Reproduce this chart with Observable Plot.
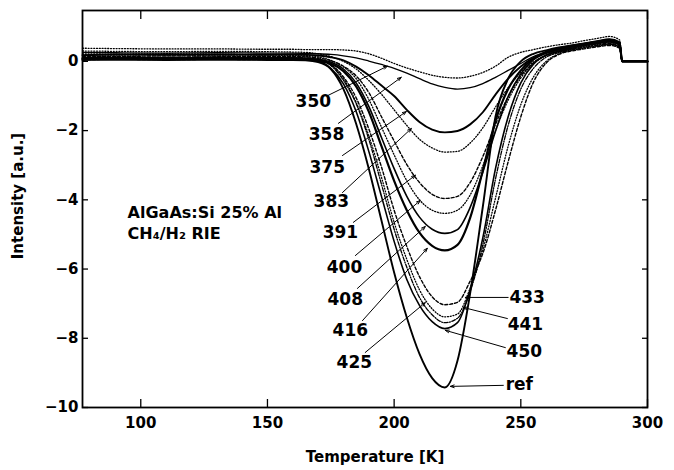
<!DOCTYPE html>
<html><head><meta charset="utf-8">
<script src="https://cdn.jsdelivr.net/npm/d3@7"></script>
<script src="https://cdn.jsdelivr.net/npm/@observablehq/plot@0.6"></script>
<style>body{margin:0;background:#fff} svg{display:block}</style>
</head><body><div id="chart"></div>
<script>
// Temperature samples [K]
const temperature = [77, 90, 110, 130, 150, 160, 165, 170, 175, 180, 185, 190, 195, 200, 205, 210, 215, 220, 225, 230, 235, 240, 245, 250, 255, 260, 265, 270, 275, 280, 285, 289, 290, 300];

// Intensity [a.u.] per curve
const s350 = [0.38, 0.37, 0.36, 0.36, 0.35, 0.35, 0.34, 0.34, 0.34, 0.33, 0.30, 0.22, 0.09, -0.06, -0.19, -0.30, -0.40, -0.46, -0.48, -0.43, -0.32, -0.14, 0.12, 0.26, 0.34, 0.42, 0.48, 0.53, 0.60, 0.66, 0.72, 0.62, 0, 0];
const s358 = [0.26, 0.25, 0.24, 0.25, 0.24, 0.24, 0.23, 0.22, 0.20, 0.16, 0.10, 0.01, -0.09, -0.20, -0.34, -0.50, -0.65, -0.75, -0.80, -0.76, -0.64, -0.46, -0.26, -0.06, 0.14, 0.27, 0.37, 0.44, 0.52, 0.58, 0.62, 0.55, 0, 0];
const s375 = [0.18, 0.20, 0.19, 0.20, 0.19, 0.20, 0.19, 0.17, 0.12, 0.03, -0.15, -0.40, -0.70, -1.00, -1.40, -1.75, -1.97, -2.05, -2.01, -1.82, -1.47, -0.96, -0.50, -0.15, 0.10, 0.24, 0.34, 0.42, 0.50, 0.56, 0.60, 0.50, 0, 0];
const s383 = [0.30, 0.29, 0.28, 0.29, 0.28, 0.27, 0.26, 0.22, 0.14, 0.00, -0.22, -0.55, -0.95, -1.40, -1.85, -2.25, -2.50, -2.62, -2.60, -2.36, -1.92, -1.32, -0.76, -0.32, -0.02, 0.18, 0.30, 0.38, 0.45, 0.52, 0.56, 0.48, 0, 0];
const s391 = [0.15, 0.14, 0.16, 0.15, 0.14, 0.14, 0.13, 0.10, 0.02, -0.14, -0.42, -0.90, -1.60, -2.30, -2.98, -3.50, -3.84, -3.96, -3.90, -3.50, -2.75, -1.82, -1.02, -0.42, -0.04, 0.18, 0.28, 0.36, 0.44, 0.50, 0.52, 0.45, 0, 0];
const s400 = [0.22, 0.21, 0.22, 0.21, 0.20, 0.20, 0.18, 0.13, 0.03, -0.16, -0.50, -1.10, -1.90, -2.70, -3.45, -4.00, -4.30, -4.39, -4.30, -3.86, -3.02, -2.00, -1.12, -0.48, -0.06, 0.16, 0.27, 0.35, 0.42, 0.48, 0.50, 0.42, 0, 0];
const s408 = [0.10, 0.10, 0.11, 0.10, 0.10, 0.10, 0.09, 0.06, -0.02, -0.22, -0.62, -1.30, -2.20, -3.10, -3.90, -4.50, -4.85, -4.97, -4.86, -4.22, -3.20, -2.02, -1.02, -0.36, 0.04, 0.24, 0.34, 0.42, 0.48, 0.52, 0.56, 0.48, 0, 0];
const s416 = [0.08, 0.07, 0.08, 0.07, 0.07, 0.07, 0.06, 0.03, -0.06, -0.28, -0.72, -1.45, -2.45, -3.45, -4.30, -4.95, -5.33, -5.46, -5.30, -4.52, -3.15, -1.72, -0.80, -0.26, 0.08, 0.28, 0.38, 0.45, 0.50, 0.56, 0.62, 0.52, 0, 0];
const s425 = [0.12, 0.13, 0.12, 0.13, 0.12, 0.12, 0.10, 0.05, -0.12, -0.55, -1.22, -2.25, -3.55, -4.85, -5.95, -6.82, -7.32, -7.55, -7.42, -6.65, -5.30, -3.40, -1.85, -0.80, -0.20, 0.12, 0.25, 0.33, 0.40, 0.46, 0.50, 0.40, 0, 0];
const s433 = [0.05, 0.06, 0.05, 0.06, 0.05, 0.05, 0.04, 0.00, -0.10, -0.45, -1.05, -1.95, -3.05, -4.30, -5.35, -6.22, -6.80, -7.03, -6.96, -6.35, -5.55, -4.30, -2.90, -1.60, -0.60, -0.05, 0.20, 0.30, 0.36, 0.42, 0.46, 0.38, 0, 0];
const s441 = [0.20, 0.18, 0.19, 0.18, 0.18, 0.17, 0.15, 0.08, -0.10, -0.50, -1.18, -2.15, -3.35, -4.65, -5.72, -6.60, -7.15, -7.38, -7.30, -6.55, -5.45, -3.95, -2.45, -1.25, -0.45, 0.00, 0.22, 0.32, 0.38, 0.44, 0.48, 0.40, 0, 0];
const s450 = [0.06, 0.05, 0.06, 0.05, 0.06, 0.05, 0.04, 0.00, -0.20, -0.65, -1.45, -2.60, -3.90, -5.20, -6.30, -7.05, -7.52, -7.72, -7.55, -6.60, -5.10, -3.10, -1.60, -0.62, -0.08, 0.18, 0.30, 0.38, 0.46, 0.52, 0.58, 0.50, 0, 0];
const sRef = [0.04, 0.05, 0.04, 0.05, 0.04, 0.04, 0.03, -0.02, -0.22, -0.80, -1.80, -3.10, -4.60, -6.10, -7.40, -8.45, -9.15, -9.42, -8.65, -6.70, -4.20, -1.60, -0.50, 0.00, 0.22, 0.32, 0.40, 0.46, 0.52, 0.58, 0.64, 0.55, 0, 0];

const seriesNames = ["350", "358", "375", "383", "391", "400", "408", "416", "425", "433", "441", "450", "ref"];
const seriesValues = [s350, s358, s375, s383, s391, s400, s408, s416, s425, s433, s441, s450, sRef];

// Axis ticks
const xTicks = [100, 150, 200, 250, 300];
const yTicks = [0, -2, -4, -6, -8, -10];

// Curve labels (text) and the arrow from each label to its curve, in data units
const labelText = ["350", "358", "375", "383", "391", "400", "408", "416", "425", "433", "441", "450", "ref"];
const labelT = [168.1, 173.3, 173.6, 175.2, 178.8, 180.4, 180.7, 182.7, 184.3, 252.5, 251.8, 251.4, 249.4];
const labelI = [-1.16, -2.11, -3.06, -4.05, -4.94, -5.95, -6.88, -7.77, -8.70, -6.82, -7.60, -8.38, -9.34];
const arrowT1 = [174.0, 178.0, 179.6, 179.6, 183.9, 184.7, 185.5, 187.5, 188.6, 245.0, 244.7, 243.9, 243.1];
const arrowI1 = [-0.98, -1.79, -2.72, -3.79, -4.65, -5.61, -6.56, -7.49, -8.41, -6.82, -7.43, -8.27, -9.36];
const arrowT2 = [197.3, 202.8, 204.8, 206.8, 208.4, 210.3, 212.3, 213.1, 212.3, 228.1, 227.3, 220.2, 222.2];
const arrowI2 = [-0.14, -0.46, -1.45, -1.94, -3.29, -4.02, -4.77, -5.40, -6.97, -6.82, -7.11, -7.77, -9.39];

const noteLines = ["AlGaAs:Si 25% Al", "CH\u2084/H\u2082 RIE"];
const noteT = [94.8, 94.8];
const noteI = [-4.39, -4.97];

// Line styles per series
const styles = {
  "350": {w: 1.3, dash: "1,1.8"},
  "358": {w: 1.3, dash: null},
  "375": {w: 1.9, dash: null},
  "383": {w: 1.3, dash: "1,1.8"},
  "391": {w: 1.4, dash: "3,2"},
  "400": {w: 1.3, dash: "1,1.8"},
  "408": {w: 1.6, dash: null},
  "416": {w: 2.2, dash: null},
  "425": {w: 1.3, dash: "4,1.5,1,1.5"},
  "433": {w: 1.4, dash: "3,2"},
  "441": {w: 1.3, dash: "1,1.8"},
  "450": {w: 1.6, dash: null},
  "ref": {w: 1.9, dash: null}
};

const lineMarks = seriesNames.map((name, i) => {
  const rows = temperature.map((t, j) => ({t, v: seriesValues[i][j]}));
  const st = styles[name];
  return Plot.line(rows, {x: "t", y: "v", stroke: "black", strokeWidth: st.w,
    strokeDasharray: st.dash ?? undefined, curve: "monotone-x"});
});

const labels = labelText.map((s, i) => ({s, t: labelT[i], v: labelI[i]}));
const arrows = labelText.map((s, i) => ({x1: arrowT1[i], y1: arrowI1[i], x2: arrowT2[i], y2: arrowI2[i]}));
const notes = noteLines.map((s, i) => ({s, t: noteT[i], v: noteI[i]}));

const fmt = d => d < 0 ? "\u2212" + Math.abs(d) : String(d);

const chart = Plot.plot({
  width: 674, height: 470,
  marginLeft: 82, marginRight: 27, marginTop: 10, marginBottom: 63,
  style: {fontFamily: "DejaVu Sans", fontWeight: "bold", fontSize: "15px", background: "white", color: "black"},
  x: {domain: [77, 300]},
  y: {domain: [-10, 1.47]},
  marks: [
    ...lineMarks,
    Plot.arrow(arrows, {x1: "x1", y1: "y1", x2: "x2", y2: "y2", stroke: "black", strokeWidth: 1, headLength: 6, headAngle: 40}),
    Plot.text(labels, {x: "t", y: "v", text: "s", fontSize: 17, fontWeight: "bold", fill: "black"}),
    Plot.text(notes, {x: "t", y: "v", text: "s", fontSize: 16, fontWeight: "bold", textAnchor: "start", fill: "black"}),
    // inward ticks on all four sides
    Plot.axisX(xTicks, {anchor: "bottom", tickSize: 8, dy: -8, tickFormat: () => "", label: null, strokeWidth: 1.3}),
    Plot.axisX(xTicks, {anchor: "top", tickSize: 8, dy: 8, tickFormat: () => "", label: null, strokeWidth: 1.3}),
    Plot.axisY(yTicks, {anchor: "left", tickSize: 6, dx: 6, tickFormat: () => "", label: null, strokeWidth: 1.3}),
    Plot.axisY(yTicks, {anchor: "right", tickSize: 6, dx: -6, tickFormat: () => "", label: null, strokeWidth: 1.3}),
    // tick labels
    Plot.axisX(xTicks, {anchor: "bottom", tickSize: 0, tickPadding: 10, tickFormat: fmt, label: null}),
    Plot.axisY(yTicks, {anchor: "left", tickSize: 0, tickPadding: 4, tickFormat: fmt, label: null}),
    Plot.frame({stroke: "black", strokeWidth: 1.8}),
    Plot.text(["Temperature [K]"], {frameAnchor: "bottom", dy: 50, dx: 10, textAnchor: "middle", lineAnchor: "middle", fontSize: 15, fontWeight: "bold"}),
    Plot.text(["Intensity [a.u.]"], {frameAnchor: "left", rotate: -90, dx: -64, dy: -13, textAnchor: "middle", lineAnchor: "middle", fontSize: 15, fontWeight: "bold"})
  ]
});
document.getElementById("chart").appendChild(chart);
</script>
</body></html>
